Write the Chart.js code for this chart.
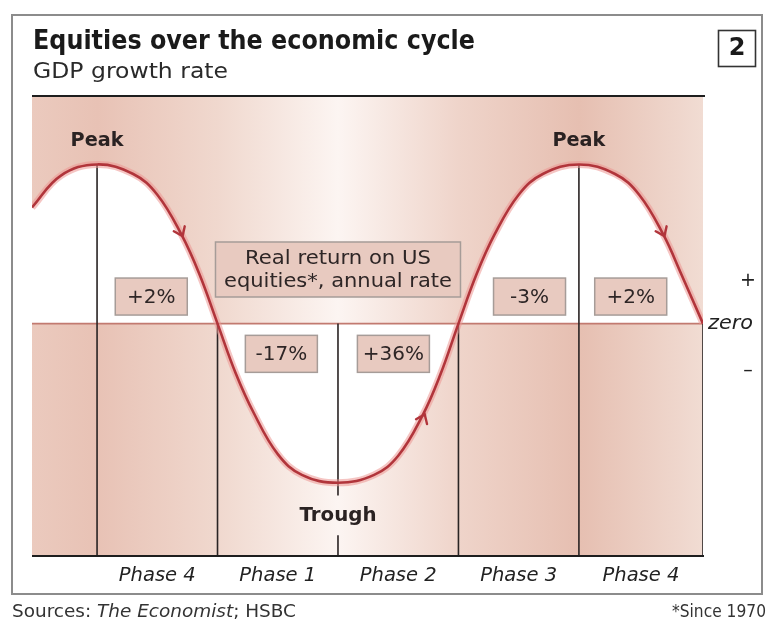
<!DOCTYPE html>
<html>
<head>
<meta charset="utf-8">
<script src="https://cdn.jsdelivr.net/npm/chart.js@4.4.1/dist/chart.umd.min.js"></script>
<style>
html, body { margin: 0; padding: 0; background: #fff; }
#wrap { position: relative; width: 768px; height: 626px; }
</style>
</head>
<body>
<div id="wrap"><canvas id="cycleChart" width="768" height="626"></canvas></div>
<script>
// position in the cycle (1 = peak, 2 = zero, 3 = trough ...) and GDP growth
const cycleX    = [0.46, 0.7, 1.0, 1.3, 1.5, 1.7, 1.85, 2.0, 2.15, 2.3, 2.5, 2.7, 3.0, 3.3, 3.5, 3.7, 3.85, 4.0, 4.15, 4.3, 4.5, 4.7, 5.0, 5.3, 5.5, 5.7, 5.85, 6.03];
const gdpGrowth = [0.73, 0.93, 1.0, 0.94, 0.81, 0.56, 0.31, 0.0, -0.31, -0.56, -0.82, -0.95, -1.0, -0.95, -0.83, -0.58, -0.32, 0.0, 0.31, 0.56, 0.81, 0.94, 1.0, 0.94, 0.81, 0.56, 0.31, 0.0];

const phaseNames   = ['Phase 4', 'Phase 1', 'Phase 2', 'Phase 3', 'Phase 4'];
const phaseEdges   = [1, 2, 3, 4, 5, 6.03];
const edgeTops     = [1, 0, 0, 0, 1, 0];
const phaseReturns = ['+2%', '-17%', '+36%', '-3%', '+2%'];
const returnX      = [1.45, 2.53, 3.46, 4.59, 5.43];
const returnY      = [0.17, -0.19, -0.19, 0.17, 0.17];

const turningNames = ['Peak', 'Trough', 'Peak'];
const turningX     = [1, 3, 5];
const turningY     = [1.15, -1.21, 1.15];

const arrowX = [1.71, 3.72, 5.71];
const arrowY = [0.55, -0.57, 0.55];

const returnNote = ['Real return on US', 'equities*, annual rate'];
const noteX = 3.0, noteY = 0.34;

const xMin = 0.46, xMax = 6.03, yMin = -1.46, yMax = 1.43;

const CURVE = '#b1353b';
const FONT = '"DejaVu Sans", "Open Sans", sans-serif';

function fitText(ctx, text, x, y, font, width, align) {
    ctx.font = font;
    const w = ctx.measureText(text).width;
    const s = width ? width / w : 1;
    ctx.save();
    ctx.translate(x, y);
    ctx.scale(s, 1);
    ctx.textAlign = align || 'center';
    ctx.textBaseline = 'middle';
    ctx.fillText(text, 0, 0);
    ctx.restore();
}

const curvePoints = cycleX.map((x, i) => ({x: x, y: gdpGrowth[i]}));

var datasets = [
    {   // main curve
        data: curvePoints, borderColor: CURVE, borderWidth: 2.6,
        pointRadius: 0, tension: 0.4, fill: false
    },
    {   // soft halo round the curve
        data: curvePoints, borderColor: 'rgba(236,150,145,0.55)', borderWidth: 7,
        pointRadius: 0, tension: 0.4, fill: false
    }
];
phaseEdges.forEach((e, i) => {
    var pts;
    if (e === 3) {
        pts = [{x: e, y: edgeTops[i]}, {x: e, y: -1.08}, {x: e, y: null}, {x: e, y: -1.33}, {x: e, y: yMin}];
    } else {
        pts = [{x: e, y: edgeTops[i]}, {x: e, y: yMin}];
    }
    datasets.push({
        data: pts, borderColor: '#2a2424', borderWidth: 1.6,
        pointRadius: 0, fill: false, spanGaps: false
    });
});
datasets.push({   // zero line
    data: [{x: xMin, y: 0}, {x: xMax, y: 0}], borderColor: '#c27a70', borderWidth: 1.6,
    pointRadius: 0, fill: false
});
datasets.push({   // white area between curve and zero
    data: curvePoints, borderWidth: 0, borderColor: 'rgba(0,0,0,0)',
    backgroundColor: '#ffffff', pointRadius: 0, tension: 0.4,
    fill: 'origin'
});

const decor = {
    id: 'decor',
    beforeDraw(chart) {
        const ctx = chart.ctx;
        ctx.save();
        ctx.fillStyle = '#fff';
        ctx.fillRect(0, 0, chart.width, chart.height);
        // frame
        ctx.strokeStyle = '#8c8c8c';
        ctx.lineWidth = 2;
        ctx.strokeRect(12, 15, 750, 579);
        // number box
        ctx.strokeStyle = '#333';
        ctx.lineWidth = 1.6;
        ctx.strokeRect(718.5, 30.5, 37, 36);
        ctx.fillStyle = '#1a1a1a';
        fitText(ctx, '2', 737, 49, 'bold 24px ' + FONT, 0, 'center');
        // titles
        fitText(ctx, 'Equities over the economic cycle', 33, 42, 'bold 26px ' + FONT, 442, 'left');
        ctx.fillStyle = '#2a2a2a';
        fitText(ctx, 'GDP growth rate', 33, 73, '21px ' + FONT, 195, 'left');
        // footer
        ctx.fillStyle = '#333';
        ctx.font = '17px ' + FONT;
        var a = 'Sources: ', c = '; HSBC', b = 'The Economist';
        var wa = ctx.measureText(a).width, wc = ctx.measureText(c).width;
        ctx.font = 'italic 17px ' + FONT;
        var wb = ctx.measureText(b).width;
        var s = 284 / (wa + wb + wc);
        ctx.save();
        ctx.translate(12, 613);
        ctx.scale(s, 1);
        ctx.textBaseline = 'middle';
        ctx.textAlign = 'left';
        ctx.font = '17px ' + FONT;
        ctx.fillText(a, 0, 0);
        ctx.font = 'italic 17px ' + FONT;
        ctx.fillText(b, wa, 0);
        ctx.font = '17px ' + FONT;
        ctx.fillText(c, wa + wb, 0);
        ctx.restore();
        fitText(ctx, '*Since 1970', 766, 613, '17px ' + FONT, 94, 'right');
        ctx.restore();
    },
    beforeDatasetsDraw(chart) {
        const ctx = chart.ctx, area = chart.chartArea, xs = chart.scales.x;
        const span = area.right - area.left;
        const stops = [[0.46, '#ebcabe'], [1, '#e8c2b5'], [2, '#f0d8ce'], [3, '#fcf5f2'],
                       [4, '#efd4ca'], [5, '#e6bfb1'], [6.03, '#f1dcd3']];
        const g = ctx.createLinearGradient(area.left, 0, area.right, 0);
        stops.forEach(st => g.addColorStop(Math.min(1, Math.max(0, (xs.getPixelForValue(st[0]) - area.left) / span)), st[1]));
        ctx.save();
        ctx.fillStyle = g;
        ctx.fillRect(area.left, area.top, span, area.bottom - area.top);
        ctx.restore();
    },
    afterDatasetsDraw(chart) {
        const ctx = chart.ctx, area = chart.chartArea, xs = chart.scales.x, ys = chart.scales.y;
        ctx.save();
        // top and bottom rules
        ctx.strokeStyle = '#1e1e1e';
        ctx.lineWidth = 2;
        ctx.beginPath();
        ctx.moveTo(area.left, area.top); ctx.lineTo(area.right + 2, area.top);
        ctx.moveTo(area.left, area.bottom); ctx.lineTo(area.right + 1, area.bottom);
        ctx.stroke();

        // arrows along the curve
        arrowX.forEach((ax, i) => {
            const px = xs.getPixelForValue(ax), py = ys.getPixelForValue(arrowY[i]);
            let k = 0;
            while (k < cycleX.length - 2 && cycleX[k + 1] < ax) k++;
            const dx = xs.getPixelForValue(cycleX[k + 1]) - xs.getPixelForValue(cycleX[k]);
            const dy = ys.getPixelForValue(gdpGrowth[k + 1]) - ys.getPixelForValue(gdpGrowth[k]);
            const ang = Math.atan2(dy, dx);
            ctx.save();
            ctx.translate(px, py);
            ctx.rotate(ang);
            ctx.strokeStyle = CURVE;
            ctx.lineWidth = 2.4;
            ctx.lineCap = 'round';
            ctx.beginPath();
            ctx.moveTo(-8, -6); ctx.lineTo(0, 0); ctx.lineTo(-8, 6);
            ctx.stroke();
            ctx.restore();
        });

        // return boxes
        function box(cx, cy, w, h) {
            ctx.fillStyle = '#e8cac0';
            ctx.fillRect(cx - w / 2, cy - h / 2, w, h);
            ctx.strokeStyle = '#a69c98';
            ctx.lineWidth = 1.5;
            ctx.strokeRect(cx - w / 2, cy - h / 2, w, h);
        }
        phaseReturns.forEach((t, i) => {
            const cx = xs.getPixelForValue(returnX[i]), cy = ys.getPixelForValue(returnY[i]);
            box(cx, cy, 72, 37);
            ctx.fillStyle = '#2e2626';
            fitText(ctx, t, cx, cy + 1, '20px ' + FONT, 0, 'center');
        });
        const nx = xs.getPixelForValue(noteX), ny = ys.getPixelForValue(noteY);
        box(nx, ny, 245, 55);
        ctx.fillStyle = '#2e2626';
        fitText(ctx, returnNote[0], nx, ny - 11, '20px ' + FONT, 186, 'center');
        fitText(ctx, returnNote[1], nx, ny + 12, '20px ' + FONT, 228, 'center');

        // peak / trough labels
        ctx.fillStyle = '#2a2222';
        turningNames.forEach((t, i) => {
            fitText(ctx, t, xs.getPixelForValue(turningX[i]), ys.getPixelForValue(turningY[i]),
                'bold 20px ' + FONT, t === 'Peak' ? 53 : 77, 'center');
        });

        // phase names under the axis
        ctx.fillStyle = '#222';
        phaseNames.forEach((t, i) => {
            const cx = xs.getPixelForValue((phaseEdges[i] + phaseEdges[i + 1]) / 2);
            fitText(ctx, t, cx, area.bottom + 20, 'italic 19px ' + FONT, 77, 'center');
        });

        // sign labels on the right
        const y0 = ys.getPixelForValue(0);
        ctx.fillStyle = '#222';
        fitText(ctx, '+', 748, y0 - 43, '19px ' + FONT, 0, 'center');
        fitText(ctx, 'zero', 708, y0, 'italic 19px ' + FONT, 45, 'left');
        fitText(ctx, '–', 748, y0 + 47, '19px ' + FONT, 0, 'center');
        ctx.restore();
    }
};

new Chart(document.getElementById('cycleChart'), {
    type: 'line',
    data: { datasets: datasets },
    options: {
        responsive: false,
        animation: false,
        events: [],
        layout: { padding: { left: 32, right: 65, top: 96, bottom: 70 } },
        scales: {
            x: { type: 'linear', min: xMin, max: xMax, display: false },
            y: { min: yMin, max: yMax, display: false }
        },
        plugins: { legend: { display: false }, tooltip: { enabled: false } }
    },
    plugins: [decor]
});
</script>
</body>
</html>
